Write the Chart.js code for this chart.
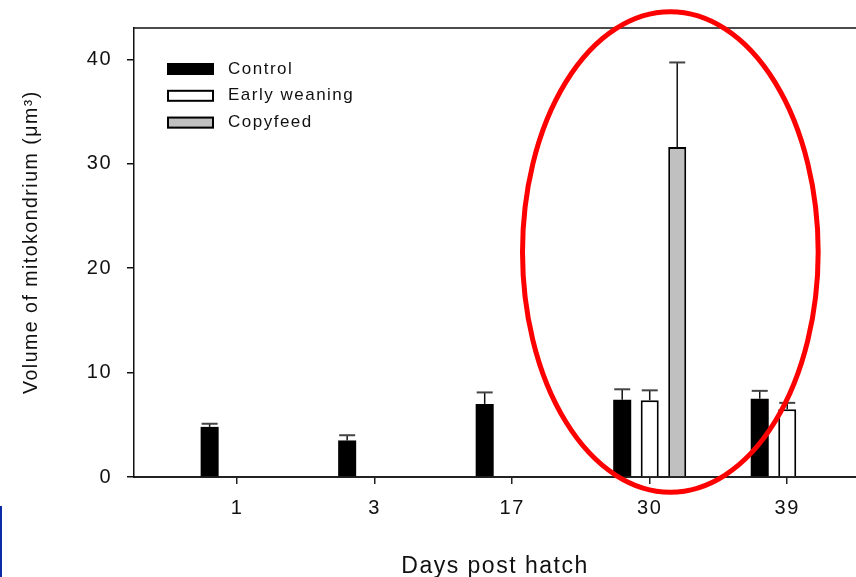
<!DOCTYPE html>
<html>
<head>
<meta charset="utf-8">
<script src="https://cdn.jsdelivr.net/npm/chart.js@4/dist/chart.umd.min.js"></script>
<style>
  html, body { margin: 0; padding: 0; background: #fff; }
  #wrap { position: relative; width: 856px; height: 577px; overflow: hidden; }
  #edge { position: absolute; left: 0; top: 506px; width: 2px; height: 71px; background: #0a2aa8; }
</style>
</head>
<body>
<div id="wrap">
  <canvas id="c" width="856" height="577"></canvas>
  <div id="edge"></div>
</div>
<script>
// Days post hatch (one group of bars per day)
const DAYS = ['1', '3', '17', '30', '39'];

// Mean mitochondrial volume (µm³) per group
const CONTROL = [4.8, 3.5, 7.0, 7.4, 7.5];
const EARLY_WEANING = [null, null, null, 7.35, 6.5];
const COPYFEED = [null, null, null, 31.6, null];

// Upper error (SE) for each mean
const CONTROL_ERR = [0.3, 0.5, 1.1, 1.0, 0.75];
const EARLY_WEANING_ERR = [null, null, null, 0.95, 0.6];
const COPYFEED_ERR = [null, null, null, 8.1, null];

// y-axis ticks
const Y_TICKS = [0, 10, 20, 30, 40];

const FONT = '"Liberation Sans", Arial, Helvetica, sans-serif';

function points(values) {
  const out = [];
  values.forEach((v, i) => { if (v !== null) out.push({ x: i, y: v }); });
  return out;
}

const datasets = [
  { label: 'Control', data: points(CONTROL), err: CONTROL_ERR,
    backgroundColor: '#000000', borderColor: '#000000', borderWidth: 0 },
  { label: 'Early weaning', data: points(EARLY_WEANING), err: EARLY_WEANING_ERR,
    backgroundColor: '#ffffff', borderColor: '#000000', borderWidth: 2 },
  { label: 'Copyfeed', data: points(COPYFEED), err: COPYFEED_ERR,
    backgroundColor: '#c0c0c0', borderColor: '#000000', borderWidth: 2 }
];

// slightly widened glyph spacing for all canvas text
const spacing = {
  id: 'spacing',
  beforeDraw(chart) { chart.ctx.letterSpacing = '1.5px'; }
};

// error whiskers above each bar
const whiskers = {
  id: 'whiskers',
  afterDatasetsDraw(chart) {
    const ctx = chart.ctx;
    const y = chart.scales.y;
    chart.data.datasets.forEach((ds, di) => {
      const meta = chart.getDatasetMeta(di);
      meta.data.forEach((bar, k) => {
        const p = ds.data[k];
        const e = ds.err[p.x];
        if (e === null || e === undefined) return;
        const top = y.getPixelForValue(p.y + e);
        ctx.save();
        ctx.strokeStyle = '#111';
        ctx.lineWidth = 1.5;
        ctx.beginPath();
        ctx.moveTo(bar.x, bar.y);
        ctx.lineTo(bar.x, top);
        ctx.stroke();
        ctx.strokeStyle = '#444';
        ctx.lineWidth = 2;
        ctx.beginPath();
        ctx.moveTo(bar.x - 8, top);
        ctx.lineTo(bar.x + 8, top);
        ctx.stroke();
        ctx.restore();
      });
    });
  }
};

// top frame line, in-plot legend and the highlight ring
const overlay = {
  id: 'overlay',
  afterDraw(chart) {
    const ctx = chart.ctx;
    const a = chart.chartArea;
    const xs = chart.scales.x, ys = chart.scales.y;
    ctx.save();
    ctx.letterSpacing = '1.5px';

    // frame top
    ctx.strokeStyle = '#111';
    ctx.lineWidth = 1.5;
    ctx.beginPath();
    ctx.moveTo(a.left, a.top);
    ctx.lineTo(a.right, a.top);
    ctx.stroke();

    // legend
    const lx = a.left + 33, ly = a.top + 41, row = 26.8, bw = 47, bh = 12;
    ctx.font = '17px ' + FONT;
    ctx.textBaseline = 'middle';
    ctx.textAlign = 'left';
    chart.data.datasets.forEach((ds, i) => {
      const cy = ly + i * row;
      ctx.fillStyle = ds.backgroundColor;
      ctx.fillRect(lx, cy - bh / 2, bw, bh);
      if (ds.borderWidth > 0) {
        ctx.strokeStyle = ds.borderColor;
        ctx.lineWidth = 2;
        ctx.strokeRect(lx + 1, cy - bh / 2 + 1, bw - 2, bh - 2);
      }
      ctx.fillStyle = '#111';
      ctx.fillText(ds.label, lx + 61, cy);
    });

    // highlight ring round the day-30 group
    const cx = xs.getPixelForValue(3.15);
    const cy = ys.getPixelForValue(21.55);
    const rx = xs.getPixelForValue(3.15 + 1.075) - cx;
    const ry = cy - ys.getPixelForValue(21.55 + 23.0);
    ctx.strokeStyle = '#ff0000';
    ctx.lineWidth = 5;
    ctx.beginPath();
    ctx.ellipse(cx, cy, rx, ry, 0, 0, Math.PI * 2);
    ctx.stroke();
    ctx.restore();
  }
};

new Chart(document.getElementById('c'), {
  type: 'bar',
  data: { datasets },
  plugins: [spacing, whiskers, overlay],
  options: {
    responsive: false,
    maintainAspectRatio: false,
    devicePixelRatio: 1,
    animation: false,
    layout: { padding: { top: 28, left: 0, right: 0, bottom: 0 } },
    datasets: { bar: { barPercentage: 0.655, categoryPercentage: 0.6 } },
    plugins: { legend: { display: false }, tooltip: { enabled: false } },
    scales: {
      x: {
        type: 'linear',
        offset: false,
        min: -0.75,
        max: 4.5,
        afterBuildTicks(s) { s.ticks = DAYS.map((_, i) => ({ value: i })); },
        afterFit(s) { s.height = 100; },
        ticks: {
          autoSkip: false,
          maxRotation: 0,
          padding: 12,
          color: '#111',
          font: { family: FONT, size: 20 },
          callback: (v) => DAYS[v]
        },
        grid: { offset: false, drawOnChartArea: false, drawTicks: true, tickLength: 7, color: '#222', lineWidth: 1.5 },
        border: { display: true, color: '#222', width: 2 },
        title: {
          display: true,
          text: 'Days post hatch',
          color: '#111',
          font: { family: FONT, size: 23 },
          padding: { top: 0, bottom: -3 }
        }
      },
      y: {
        min: 0,
        max: 43,
        afterBuildTicks(s) { s.ticks = Y_TICKS.map(v => ({ value: v })); },
        afterFit(s) { s.width = 134; },
        ticks: {
          padding: 15,
          color: '#111',
          font: { family: FONT, size: 20 }
        },
        grid: { drawOnChartArea: false, drawTicks: true, tickLength: 7, color: '#111', lineWidth: 1.5 },
        border: { display: true, color: '#111', width: 1.5 },
        title: {
          display: true,
          text: '   Volume of mitokondrium (μm³)',
          color: '#111',
          font: { family: FONT, size: 19.5 },
          padding: { top: 20, bottom: 0 }
        }
      }
    }
  }
});
</script>
</body>
</html>
